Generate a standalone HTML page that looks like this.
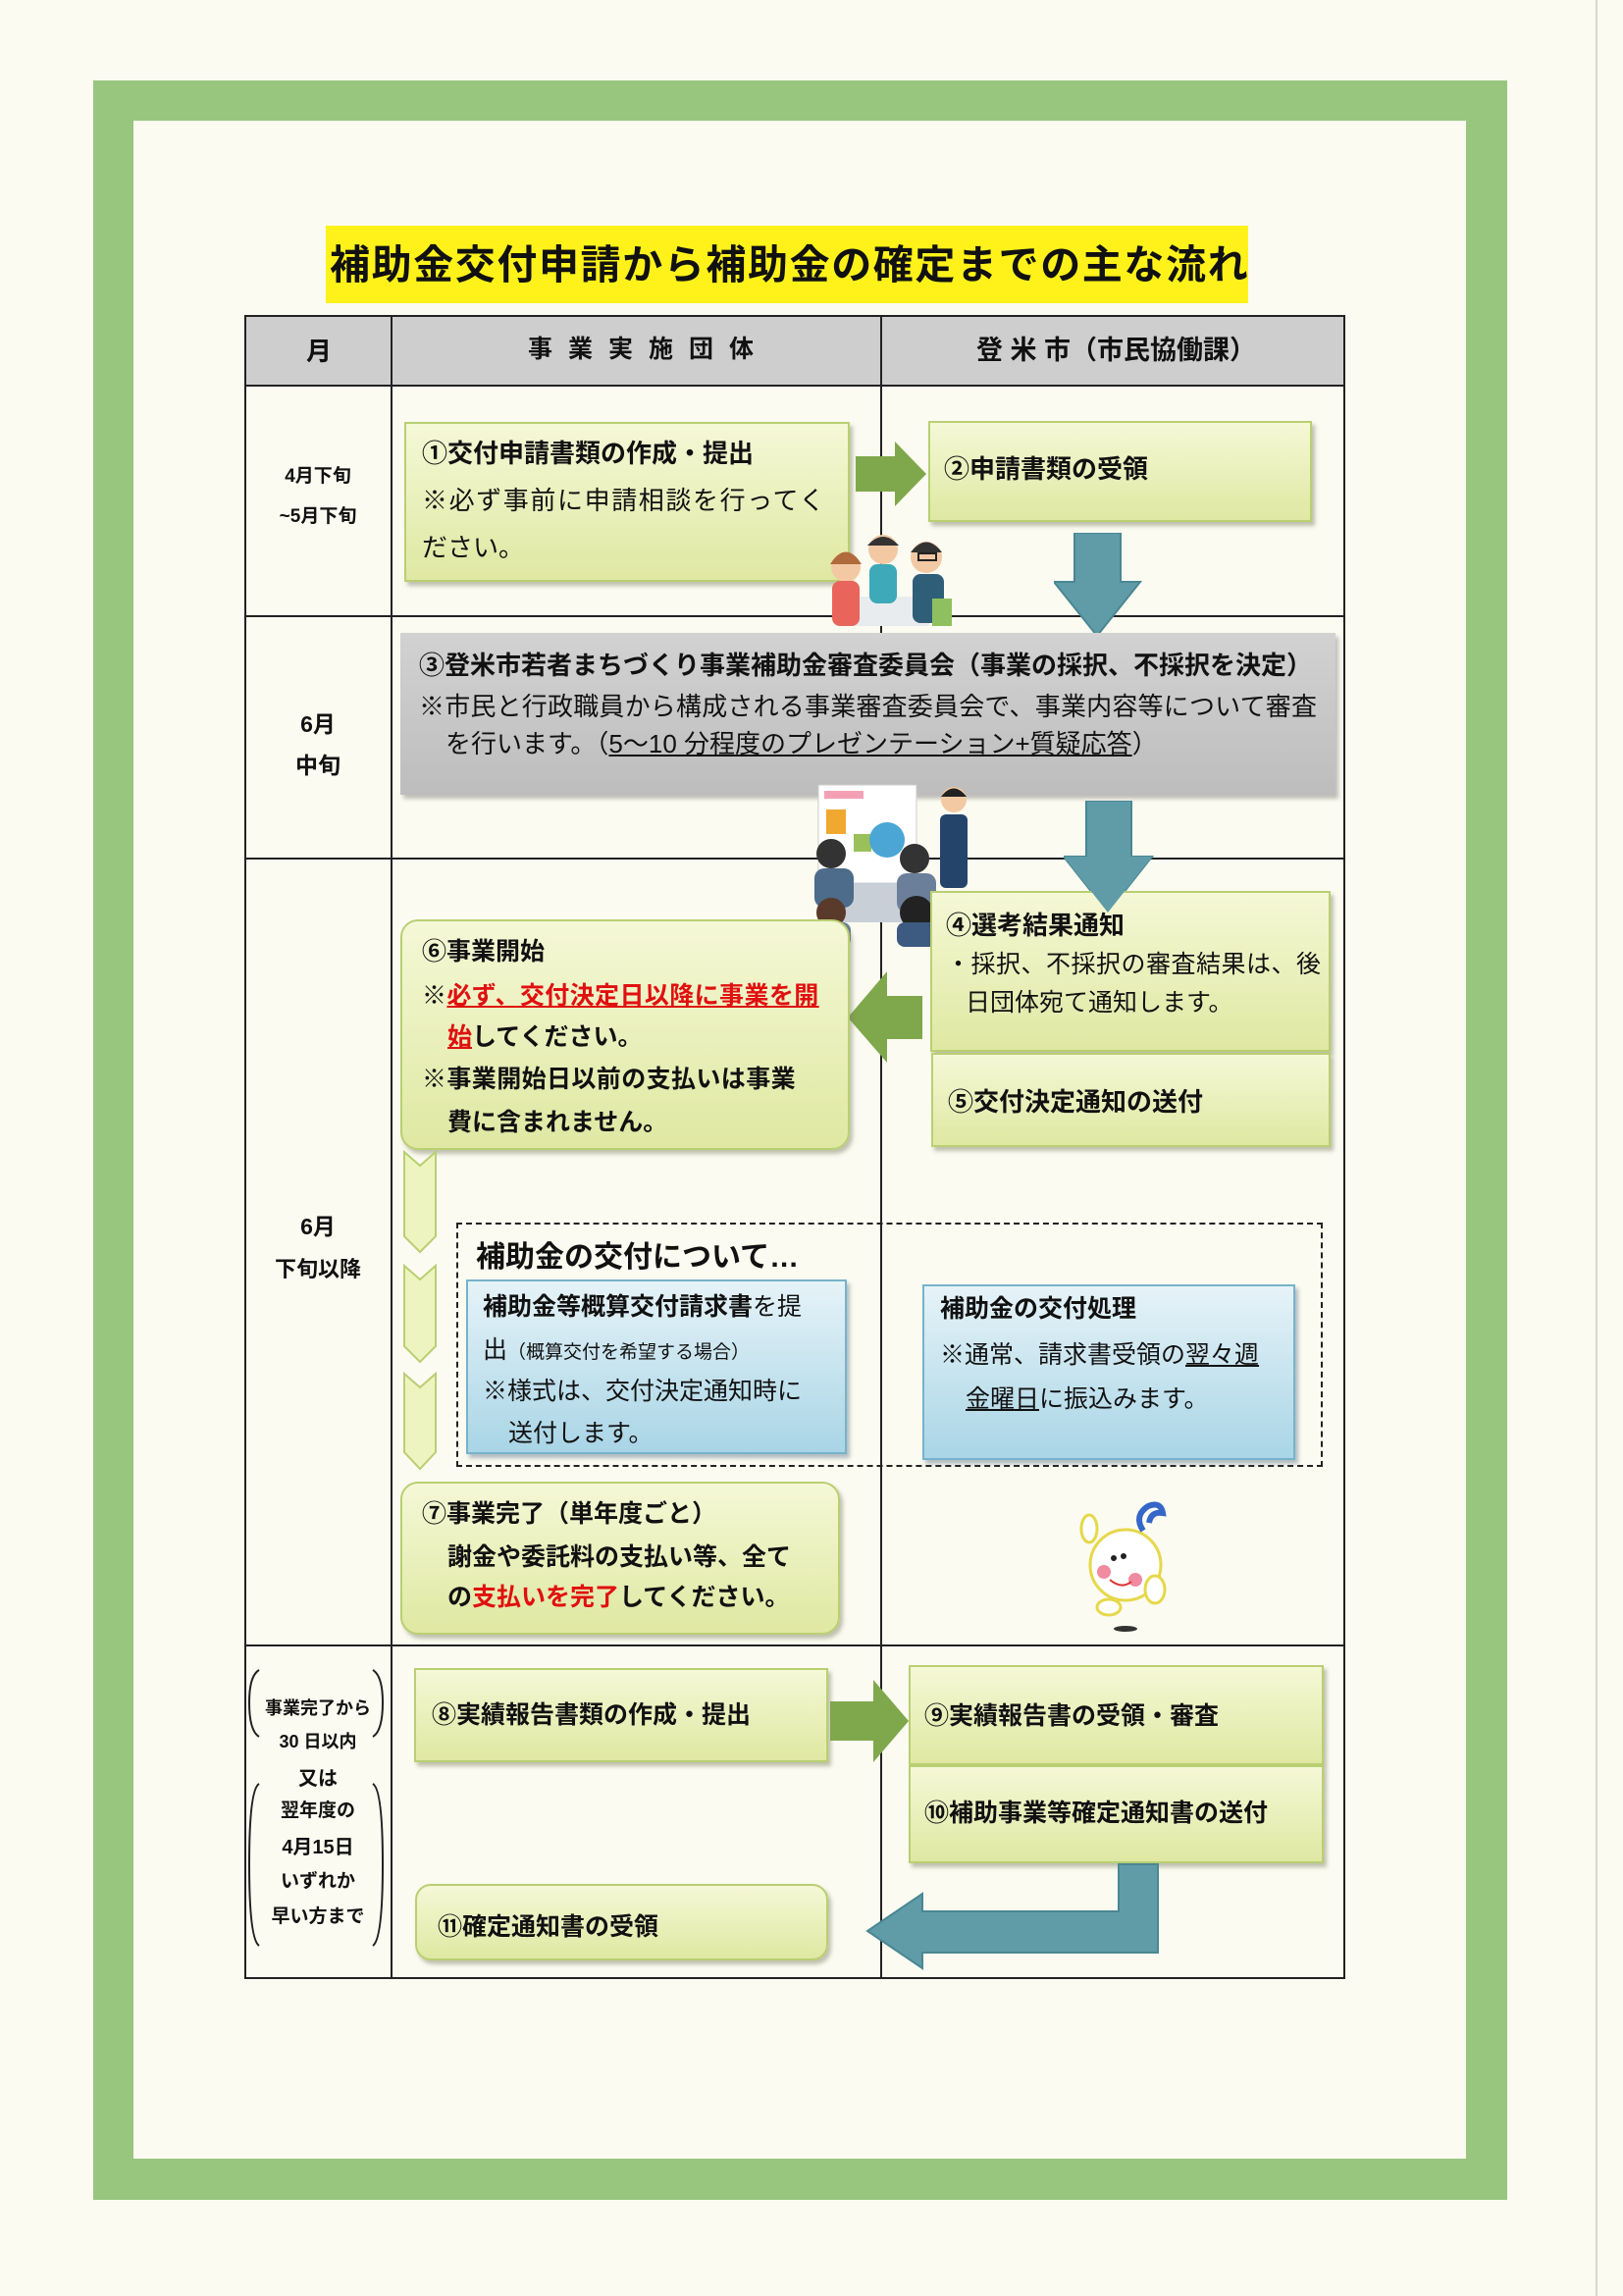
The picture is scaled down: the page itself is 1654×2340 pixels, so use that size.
<!DOCTYPE html>
<html><head><meta charset="utf-8">
<style>
*{margin:0;padding:0;box-sizing:border-box}
body{width:1654px;height:2340px;background:#fbfbf1;position:relative;overflow:hidden;font-family:"Liberation Sans","Noto Sans CJK JP",sans-serif;color:#111}
.a{position:absolute}
.box{position:absolute;background:linear-gradient(#f5f8d6,#dfe8a2);border:2px solid #b9cf72;box-shadow:3px 4px 4px rgba(120,120,90,.45)}
.gray{position:absolute;background:linear-gradient(#d2d2d2,#bdbdbd);box-shadow:3px 4px 4px rgba(100,100,100,.4)}
.blue{position:absolute;background:linear-gradient(#e6f3f8,#a9d5e6);border:2px solid #76b3cc;box-shadow:3px 4px 4px rgba(90,110,130,.45)}
.t{position:absolute;white-space:nowrap;font-size:26px;line-height:1}
.b{font-weight:bold}
.red{color:#e01010;text-decoration:underline;font-weight:bold}
.m{position:absolute;font-weight:bold;font-size:19px;white-space:nowrap;text-align:center;width:140px;left:254px}
</style></head><body>
<div class="a" style="left:95px;top:82px;width:1441px;height:2160px;background:#98c67f"></div>
<div class="a" style="left:136px;top:123px;width:1358px;height:2077px;background:#fbfbf1"></div>
<div class="a" style="left:1626px;top:0;width:2px;height:2340px;background:#d8d8d0"></div>

<div class="a" style="left:332px;top:230px;width:940px;height:79px;background:#fff21a"></div>
<div class="t b" style="left:336px;top:250px;font-size:41px;letter-spacing:1.6px">補助金交付申請から補助金の確定までの主な流れ</div>

<div class="a" style="left:249px;top:321px;width:1122px;height:72px;background:#cecece"></div>
<div class="a" style="left:249px;top:321px;width:1122px;height:1696px;border:2px solid #222"></div>
<div class="a" style="left:398px;top:321px;width:2px;height:1696px;background:#222"></div>
<div class="a" style="left:897px;top:321px;width:2px;height:1696px;background:#222"></div>
<div class="a" style="left:249px;top:392px;width:1122px;height:2px;background:#222"></div>
<div class="a" style="left:249px;top:627px;width:1122px;height:2px;background:#222"></div>
<div class="a" style="left:249px;top:874px;width:1122px;height:2px;background:#222"></div>
<div class="a" style="left:249px;top:1676px;width:1122px;height:2px;background:#222"></div>

<div class="t b" style="left:312px;top:345px;font-size:26px">月</div>
<div class="t b" style="left:538px;top:344px;font-size:25px;letter-spacing:16px">事業実施団体</div>
<div class="t b" style="left:995px;top:344px;font-size:27px">登 米 市（市民協働課）</div>

<div class="m" style="top:470px">4月下旬</div>
<div class="m" style="top:511px">~5月下旬</div>
<div class="m" style="top:719px;font-size:23px">6月</div>
<div class="m" style="top:761px;font-size:23px">中旬</div>
<div class="m" style="top:1231px;font-size:23px">6月</div>
<div class="m" style="top:1276px;font-size:22px">下旬以降</div>
<div class="m" style="top:1727px;font-size:18px">事業完了から</div>
<div class="m" style="top:1761px;font-size:18px">30 日以内</div>
<div class="m" style="top:1796px;font-size:20px">又は</div>
<div class="m" style="top:1830px;font-size:19px">翌年度の</div>
<div class="m" style="top:1866px;font-size:20px">4月15日</div>
<div class="m" style="top:1902px;font-size:19px">いずれか</div>
<div class="m" style="top:1938px;font-size:19px">早い方まで</div>
<svg class="a" style="left:250px;top:1700px" width="150" height="300">
<path d="M14 2 Q4 8 4 35 Q4 64 14 70" fill="none" stroke="#222" stroke-width="2"/>
<path d="M130 2 Q140 8 140 35 Q140 64 130 70" fill="none" stroke="#222" stroke-width="2"/>
<path d="M14 118 Q4 124 4 200 Q4 276 14 283" fill="none" stroke="#222" stroke-width="2"/>
<path d="M130 118 Q140 124 140 200 Q140 276 130 283" fill="none" stroke="#222" stroke-width="2"/>
</svg>

<div class="box" style="left:412px;top:430px;width:454px;height:163px"></div>
<div class="t b" style="left:430px;top:449px">①交付申請書類の作成・提出</div>
<div class="t" style="left:430px;top:497px;letter-spacing:1.6px">※必ず事前に申請相談を行ってく</div>
<div class="t" style="left:430px;top:545px">ださい。</div>
<svg class="a" style="left:872px;top:450px" width="74" height="66"><polygon points="0,15 40,15 40,0 72,33 40,66 40,51 0,51" fill="#7fa84c"/></svg>
<div class="box" style="left:946px;top:429px;width:391px;height:103px"></div>
<div class="t b" style="left:962px;top:465px">②申請書類の受領</div>
<svg class="a" style="left:1074px;top:543px" width="90" height="107"><polygon points="21,0 68,0 68,50 88,50 44,105 0,50 21,50" fill="#5f9ca8" stroke="#4a8793" stroke-width="2"/></svg>

<svg class="a" style="left:832px;top:530px" width="140" height="110">
<rect x="20" y="78" width="95" height="30" fill="#e9ecef"/>
<circle cx="30" cy="48" r="15" fill="#f3c9a3"/><path d="M14 45 Q30 20 46 45" fill="#b06a3c"/>
<rect x="16" y="62" width="28" height="46" rx="8" fill="#e9645a"/>
<circle cx="68" cy="30" r="15" fill="#f3c9a3"/><path d="M52 26 Q68 8 84 26" fill="#333"/>
<rect x="54" y="45" width="28" height="40" rx="8" fill="#3ea9b8"/>
<circle cx="112" cy="38" r="16" fill="#f3c9a3"/><path d="M96 33 Q112 12 128 33" fill="#333"/>
<rect x="104" y="34" width="18" height="7" fill="none" stroke="#222" stroke-width="2"/>
<rect x="98" y="55" width="32" height="50" rx="8" fill="#2f5f78"/>
<rect x="118" y="80" width="20" height="28" fill="#8fc060"/>
</svg>

<div class="gray" style="left:408px;top:645px;width:953px;height:165px"></div>
<div class="t b" style="left:427px;top:665px">③登米市若者まちづくり事業補助金審査委員会（事業の採択、不採択を決定）</div>
<div class="t" style="left:427px;top:707px;letter-spacing:0.2px">※市民と行政職員から構成される事業審査委員会で、事業内容等について審査</div>
<div class="t" style="left:454px;top:745px">を行います。（<span style="text-decoration:underline">5～10 分程度のプレゼンテーション+質疑応答</span>）</div>

<svg class="a" style="left:822px;top:790px" width="180" height="175">
<rect x="12" y="10" width="100" height="100" fill="#fff" stroke="#ccc"/>
<rect x="18" y="16" width="40" height="8" fill="#f3a0b5"/>
<rect x="20" y="35" width="20" height="25" fill="#f0a830"/>
<rect x="48" y="60" width="18" height="18" fill="#9ac05a"/>
<circle cx="82" cy="66" r="18" fill="#4ba6d6"/>
<circle cx="150" cy="25" r="13" fill="#f3c9a3"/><path d="M137 22 Q150 5 163 22" fill="#222"/>
<rect x="136" y="40" width="28" height="75" rx="6" fill="#24446a"/>
<rect x="30" y="110" width="100" height="40" fill="#c9cfd6"/>
<circle cx="25" cy="80" r="15" fill="#333"/><rect x="8" y="95" width="40" height="40" rx="10" fill="#4d6b8a"/>
<circle cx="110" cy="85" r="15" fill="#333"/><rect x="92" y="100" width="40" height="40" rx="10" fill="#6b7f9a"/>
<circle cx="25" cy="140" r="15" fill="#5a3a2a"/><rect x="5" y="150" width="40" height="25" rx="8" fill="#6a7f99"/>
<circle cx="112" cy="140" r="17" fill="#222"/><rect x="92" y="150" width="40" height="25" rx="8" fill="#3d5a80"/>
</svg>

<svg class="a" style="left:1084px;top:816px" width="92" height="116"><polygon points="23,0 69,0 69,57 90,57 45,114 0,57 23,57" fill="#5f9ca8" stroke="#4a8793" stroke-width="2"/></svg>

<div class="box" style="left:948px;top:908px;width:408px;height:164px"></div>
<div class="t b" style="left:964px;top:930px">④選考結果通知</div>
<div class="t" style="left:964px;top:971px;font-size:25px;letter-spacing:0.5px">・採択、不採択の審査結果は、後</div>
<div class="t" style="left:984px;top:1010px;font-size:25px">日団体宛て通知します。</div>
<svg class="a" style="left:1084px;top:870px" width="92" height="62"><polygon points="0,3 90,3 45,60" fill="#5f9ca8"/></svg>
<div class="box" style="left:949px;top:1073px;width:407px;height:96px"></div>
<div class="t b" style="left:966px;top:1110px">⑤交付決定通知の送付</div>

<svg class="a" style="left:864px;top:990px" width="78" height="94"><polygon points="76,25 40,25 40,0 0,47 40,93 40,69 76,69" fill="#7fa84c"/></svg>

<div class="box" style="left:408px;top:937px;width:458px;height:235px;border-radius:18px"></div>
<div class="t b" style="left:430px;top:958px;font-size:25px">⑥事業開始</div>
<div class="t b" style="left:430px;top:1003px;font-size:25px;letter-spacing:0.4px">※<span class="red">必ず、交付決定日以降に事業を開</span></div>
<div class="t b" style="left:456px;top:1045px;font-size:25px"><span class="red">始</span>してください。</div>
<div class="t b" style="left:430px;top:1088px;font-size:25px;letter-spacing:0.4px">※事業開始日以前の支払いは事業</div>
<div class="t b" style="left:456px;top:1132px;font-size:25px">費に含まれません。</div>

<svg class="a" style="left:410px;top:1172px" width="40" height="330">
<polygon points="2,2 18,16 34,2 34,88 18,104 2,88" fill="#eef4bf" stroke="#b9cf72" stroke-width="2"/>
<polygon points="2,118 18,132 34,118 34,200 18,216 2,200" fill="#eef4bf" stroke="#b9cf72" stroke-width="2"/>
<polygon points="2,228 18,242 34,228 34,308 18,325 2,308" fill="#eef4bf" stroke="#b9cf72" stroke-width="2"/>
</svg>

<div class="a" style="left:465px;top:1246px;width:883px;height:249px;border:2px dashed #222"></div>
<div class="t b" style="left:485px;top:1267px;font-size:30px">補助金の交付について…</div>
<div class="blue" style="left:475px;top:1304px;width:388px;height:178px"></div>
<div class="t" style="left:492px;top:1320px;font-size:25px"><b>補助金等概算交付請求書</b>を提</div>
<div class="t" style="left:492px;top:1364px;font-size:25px">出<span style="font-size:19px">（概算交付を希望する場合）</span></div>
<div class="t" style="left:492px;top:1406px;font-size:25px">※様式は、交付決定通知時に</div>
<div class="t" style="left:518px;top:1449px;font-size:25px">送付します。</div>
<div class="blue" style="left:940px;top:1309px;width:380px;height:179px"></div>
<div class="t b" style="left:958px;top:1322px;font-size:25px">補助金の交付処理</div>
<div class="t" style="left:958px;top:1369px;font-size:25px">※通常、請求書受領の<span style="text-decoration:underline">翌々週</span></div>
<div class="t" style="left:984px;top:1414px;font-size:25px"><span style="text-decoration:underline">金曜日</span>に振込みます。</div>

<div class="box" style="left:408px;top:1510px;width:448px;height:156px;border-radius:18px"></div>
<div class="t b" style="left:430px;top:1531px;font-size:25px">⑦事業完了（単年度ごと）</div>
<div class="t b" style="left:456px;top:1575px;font-size:25px">謝金や委託料の支払い等、全て</div>
<div class="t b" style="left:456px;top:1616px;font-size:25px">の<span style="color:#e01010">支払いを完了</span>してください。</div>

<svg class="a" style="left:1085px;top:1520px" width="130" height="150">
<circle cx="62" cy="75" r="36" fill="#fff" stroke="#e6d84a" stroke-width="3"/>
<path d="M80 40 Q70 25 85 15 Q98 10 100 22 Q88 20 86 32" fill="none" stroke="#3566c8" stroke-width="6"/>
<circle cx="40" cy="82" r="7" fill="#f08aa0"/><circle cx="72" cy="90" r="7" fill="#f08aa0"/>
<circle cx="50" cy="68" r="3" fill="#222"/><circle cx="60" cy="66" r="3" fill="#222"/>
<path d="M46 90 Q58 100 68 92" fill="none" stroke="#d33" stroke-width="2"/>
<ellipse cx="25" cy="38" rx="8" ry="14" fill="#fff" stroke="#e6d84a" stroke-width="3"/>
<ellipse cx="92" cy="100" rx="10" ry="14" fill="#fff" stroke="#e6d84a" stroke-width="3"/>
<ellipse cx="45" cy="118" rx="12" ry="8" fill="#fff" stroke="#e6d84a" stroke-width="3"/>
<ellipse cx="62" cy="140" rx="12" ry="3" fill="#333"/>
</svg>

<div class="box" style="left:422px;top:1700px;width:422px;height:96px"></div>
<div class="t b" style="left:440px;top:1736px;font-size:25px">⑧実績報告書類の作成・提出</div>
<svg class="a" style="left:846px;top:1712px" width="82" height="84"><polygon points="0,22 44,22 44,0 80,42 44,84 44,62 0,62" fill="#7fa84c"/></svg>
<div class="box" style="left:926px;top:1697px;width:423px;height:102px"></div>
<div class="t b" style="left:942px;top:1737px;font-size:25px">⑨実績報告書の受領・審査</div>
<div class="box" style="left:926px;top:1799px;width:423px;height:100px"></div>
<div class="t b" style="left:942px;top:1836px;font-size:25px">⑩補助事業等確定通知書の送付</div>

<div class="box" style="left:423px;top:1920px;width:421px;height:78px;border-radius:16px"></div>
<div class="t b" style="left:446px;top:1952px;font-size:25px">⑪確定通知書の受領</div>

<svg class="a" style="left:880px;top:1898px" width="304" height="112"><polygon points="300,2 300,92 60,92 60,108 4,70 60,32 60,50 260,50 260,2" fill="#5f9ca8" stroke="#4a8793" stroke-width="2"/></svg>
</body></html>
